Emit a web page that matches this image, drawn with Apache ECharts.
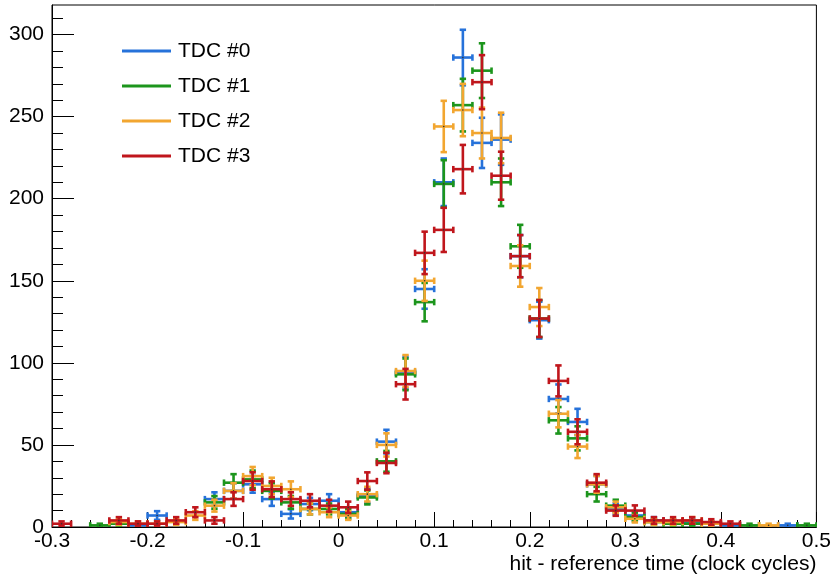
<!DOCTYPE html>
<html>
<head>
<meta charset="utf-8">
<script src="https://cdn.jsdelivr.net/npm/echarts@6/dist/echarts.min.js"></script>
<style>
	html, body { margin: 0; padding: 0; background: #fff; }
	#chart { width: 834px; height: 575px; }
</style>
</head>
<body>
<div id="chart"></div>
<script>
	// bin centres, bin width 0.02
	var binCenters = [-0.29, -0.27, -0.25, -0.23, -0.21, -0.19, -0.17, -0.15, -0.13, -0.11,
		-0.09, -0.07, -0.05, -0.03, -0.01, 0.01, 0.03, 0.05, 0.07, 0.09,
		0.11, 0.13, 0.15, 0.17, 0.19, 0.21, 0.23, 0.25, 0.27, 0.29,
		0.31, 0.33, 0.35, 0.37, 0.39, 0.41, 0.43, 0.45, 0.47, 0.49];
	var binHalfWidth = 0.01;

	// counts per bin (null = empty bin)
	var tdc0 = [null, null, null, null, 1, 7, null, null, 17, 22, 26, 17, 8, 14, 16, 9, 19, 52, 94, 145,
		210, 286, 234, 236, 165, 126, 78, 64, 26, 11, 7, 4, 3, 3, 2, 1, null, null, 1, null];
	var tdc1 = [null, null, 1, 2, null, null, null, null, 15, 27, 29, 22, 15, 11, 11, 8, 18, 40, 93, 137,
		209, 257, 278, 210, 171, 127, 65, 54, 20, 13, 6, 3, 2, 2, null, null, 1, null, null, 1];
	var tdc2 = [null, null, null, 3, 2, 2, 3, 7, 13, 22, 31, 25, 23, 11, 9, 7, 20, 50, 95, 150,
		244, 254, 240, 237, 159, 134, 69, 49, 26, 12, 5, 3, 3, 4, 2, null, null, 1, null, null];
	var tdc3 = [2, null, null, 4, 2, 2, 4, 9, 4, 17, 28, 23, 17, 16, 13, 12, 28, 39, 87, 167,
		181, 218, 271, 214, 165, 127, 89, 58, 27, 10, 10, 4, 4, 4, 3, 2, null, null, null, null];

	var seriesNames = ['TDC #0', 'TDC #1', 'TDC #2', 'TDC #3'];
	var seriesColors = ['#2672da', '#1c951c', '#f2a630', '#c0161c'];

	// tick labels
	var xTicks = [-0.3, -0.2, -0.1, 0, 0.1, 0.2, 0.3, 0.4, 0.5];
	var yTicks = [0, 50, 100, 150, 200, 250, 300];
	var xMin = -0.3, xMax = 0.5, yMin = 0, yMax = 318;

	var xMinor = [];
	for (var i = 0; i < xTicks.length - 1; i++) {
		for (var k = 1; k < 5; k++) xMinor.push(+(xTicks[i] + k * 0.02).toFixed(2));
	}
	var yMinor = [];
	for (var v = 10; v <= yMax; v += 10) {
		if (v % 50 !== 0) yMinor.push(v);
	}

	function toData(counts) {
		var out = [];
		counts.forEach(function(c, idx) {
			if (c !== null) out.push([binCenters[idx], c]);
		});
		return out;
	}

	// one histogram bin: horizontal bar over the bin width, sqrt(N) error bar, end caps
	function renderCross(params, api) {
		var x = api.value(0);
		var y = api.value(1);
		var err = Math.sqrt(y);
		var color = api.visual('color');
		var c = api.coord([x, y]);
		var l = api.coord([x - binHalfWidth, y]);
		var r = api.coord([x + binHalfWidth, y]);
		var t = api.coord([x, y + err]);
		var b = api.coord([x, Math.max(y - err, 0)]);
		var cap = 3.2;
		var style = { stroke: color, lineWidth: 2.6 };
		var lines = [
			[l[0], c[1], r[0], c[1]],
			[c[0], t[1], c[0], b[1]],
			[l[0], c[1] - cap, l[0], c[1] + cap],
			[r[0], c[1] - cap, r[0], c[1] + cap],
			[c[0] - cap, t[1], c[0] + cap, t[1]],
			[c[0] - cap, b[1], c[0] + cap, b[1]]
		];
		var children = lines.map(function(p) {
			return { type: 'line', shape: { x1: p[0], y1: p[1], x2: p[2], y2: p[3] }, style: style };
		});
		children.push({ type: 'circle', shape: { cx: c[0], cy: c[1], r: 0.8 }, style: { fill: '#333' } });
		return { type: 'group', children: children };
	}

	var allCounts = [tdc0, tdc1, tdc2, tdc3];
	var series = allCounts.map(function(counts, i) {
		return {
			name: seriesNames[i],
			type: 'custom',
			xAxisIndex: 0,
			yAxisIndex: 0,
			clip: true,
			itemStyle: { color: seriesColors[i] },
			renderItem: renderCross,
			data: toData(counts)
		};
	});

	var fontFamily = '"Liberation Sans", Arial, sans-serif';
	var fontSize = 21;

	var option = {
		animation: false,
		textStyle: { fontFamily: fontFamily },
		grid: {
			left: 52, right: 16, top: 5, bottom: 48,
			show: true, borderColor: '#000', borderWidth: 1, backgroundColor: 'transparent'
		},
		legend: {
			orient: 'vertical',
			left: 117,
			top: 34,
			itemWidth: 49,
			itemHeight: 3,
			itemGap: 11,
			selectedMode: false,
			data: seriesNames.map(function(n) { return { name: n, icon: 'rect' }; }),
			textStyle: { fontSize: fontSize, color: '#000', lineHeight: 24, padding: [0, 0, 0, 2], fontFamily: fontFamily }
		},
		xAxis: [{
			type: 'value',
			min: xMin, max: xMax,
			position: 'bottom',
			splitLine: { show: false },
			axisLine: { show: true, onZero: false, lineStyle: { color: '#000', width: 1 } },
			axisTick: { show: true, inside: true, length: 15, customValues: xTicks, lineStyle: { color: '#000' } },
			axisLabel: {
				customValues: xTicks, fontSize: fontSize, color: '#000', margin: 4,
				formatter: function(val) { return val === 0 ? '0' : val.toFixed(1); }
			},
			name: 'hit - reference time (clock cycles)',
			nameLocation: 'end',
			nameGap: 0,
			nameTextStyle: { fontSize: fontSize, color: '#000', align: 'right', verticalAlign: 'top', padding: [27, 0, 0, 0] }
		}, {
			type: 'value',
			min: xMin, max: xMax,
			position: 'bottom',
			splitLine: { show: false },
			axisLine: { show: false, onZero: false },
			axisTick: { show: true, inside: true, length: 7, customValues: xMinor, lineStyle: { color: '#000' } },
			axisLabel: { show: false }
		}],
		yAxis: [{
			type: 'value',
			min: yMin, max: yMax,
			position: 'left',
			splitLine: { show: false },
			axisLine: { show: true, onZero: false, lineStyle: { color: '#000', width: 1 } },
			axisTick: { show: true, inside: true, length: 22, customValues: yTicks, lineStyle: { color: '#000' } },
			axisLabel: { customValues: yTicks, fontSize: fontSize, color: '#000', margin: 8 }
		}, {
			type: 'value',
			min: yMin, max: yMax,
			position: 'left',
			splitLine: { show: false },
			axisLine: { show: false, onZero: false },
			axisTick: { show: true, inside: true, length: 11, customValues: yMinor, lineStyle: { color: '#000' } },
			axisLabel: { show: false }
		}],
		series: series
	};

	var myChart = echarts.init(document.getElementById('chart'));
	myChart.setOption(option);
</script>
</body>
</html>
